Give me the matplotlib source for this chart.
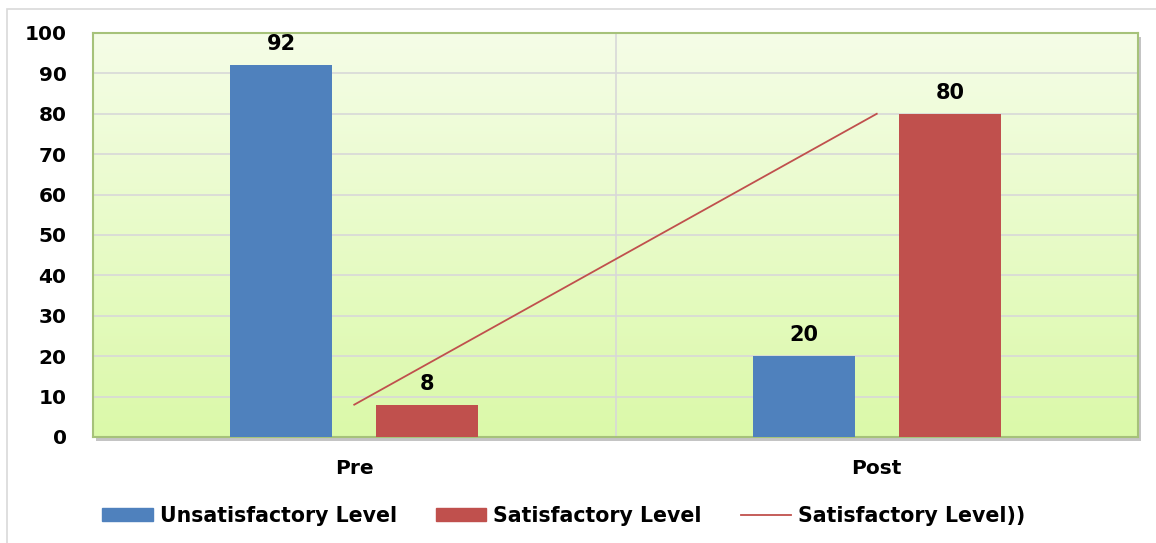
import matplotlib
matplotlib.use("Agg")
import matplotlib.pyplot as plt
import numpy as np
from matplotlib.patches import Rectangle
from matplotlib.lines import Line2D
from matplotlib.colors import LinearSegmentedColormap

categories = ["Pre", "Post"]
unsatisfactory = [92, 20]
satisfactory = [8, 80]
legend_labels = ["Unsatisfactory Level", "Satisfactory Level", "Satisfactory Level))"]

BLUE = "#4f81bd"
RED = "#c0504d"
FONT = "DejaVu Sans"

fig = plt.figure(figsize=(11.56, 5.43), dpi=100)
W, H = 1156, 543

# outer chart frame (only top and left visible)
fig.patches.append(Rectangle((7 / W, -0.5), 2.0, 1.5 - 9 / H, transform=fig.transFigure,
                             facecolor="none", edgecolor="#d9d9d9", lw=1.2, zorder=-2))

left, right, top, bottom = 93, 1138, 33, 437
ax_rect = [left / W, 1 - bottom / H, (right - left) / W, (bottom - top) / H]

# shadow
fig.patches.append(Rectangle((ax_rect[0] + 3 / W, ax_rect[1] - 4 / H), ax_rect[2], ax_rect[3],
                             transform=fig.transFigure, facecolor="#c4c4c4", edgecolor="none",
                             zorder=-1))

ax = fig.add_axes(ax_rect)
ax.set_zorder(1)

# gradient background
cmap = LinearSegmentedColormap.from_list("g", ["#dbf9a9", "#f5fde7"])
grad = np.linspace(0, 1, 256).reshape(-1, 1)
ax.imshow(grad, cmap=cmap, aspect="auto", extent=[0, 1, 0, 1], origin="lower",
          transform=ax.transAxes, zorder=0)

x = np.arange(len(categories))
w = 0.195
off = 0.14
b1 = ax.bar(x - off, unsatisfactory, w, color=BLUE, zorder=3, label=legend_labels[0])
b2 = ax.bar(x + off, satisfactory, w, color=RED, zorder=3, label=legend_labels[1])
ln, = ax.plot(x, satisfactory, color=RED, lw=1.3, zorder=4, label=legend_labels[2])

for bars, vals in ((b1, unsatisfactory), (b2, satisfactory)):
    for r, v in zip(bars, vals):
        ax.annotate(f"{v}", (r.get_x() + r.get_width() / 2, v), xytext=(0, 8),
                    textcoords="offset points", ha="center", va="bottom",
                    fontsize=15, fontweight="bold", family=FONT, zorder=5)

ax.set_xlim(-0.5, 1.5)
ax.set_ylim(0, 100)
ax.set_yticks(np.arange(0, 101, 10))
ax.set_xticks(x)
ax.set_xticklabels(categories)
ax.set_xticks([0.5], minor=True)
ax.grid(axis="y", which="major", color="#d8d8d8", lw=1.2, zorder=1)
ax.grid(axis="x", which="minor", color="#d8d8d8", lw=1.2, zorder=1)
ax.tick_params(axis="both", which="both", length=0)
ax.tick_params(axis="y", pad=19)
ax.tick_params(axis="x", pad=16)
for lab in ax.get_yticklabels():
    lab.set_fontsize(14.5)
    lab.set_fontweight("bold")
    lab.set_family(FONT)
for lab in ax.get_xticklabels():
    lab.set_fontsize(14.5)
    lab.set_fontweight("bold")
    lab.set_family(FONT)
for s in ax.spines.values():
    s.set_color("#a6c27a")
    s.set_linewidth(1.5)

handles = [Rectangle((0, 0), 1, 1, color=BLUE), Rectangle((0, 0), 1, 1, color=RED),
           Line2D([0], [0], color=RED, lw=1.3)]
fig.legend(handles, legend_labels, loc="center", bbox_to_anchor=(564 / W, 1 - 516 / H), ncol=3,
           frameon=False, prop={"family": FONT, "weight": "bold", "size": 14.8},
           handlelength=2.45, handleheight=0.6, handletextpad=0.34, columnspacing=1.9,
           borderpad=0, borderaxespad=0)

fig.savefig("out.png", dpi=100)
